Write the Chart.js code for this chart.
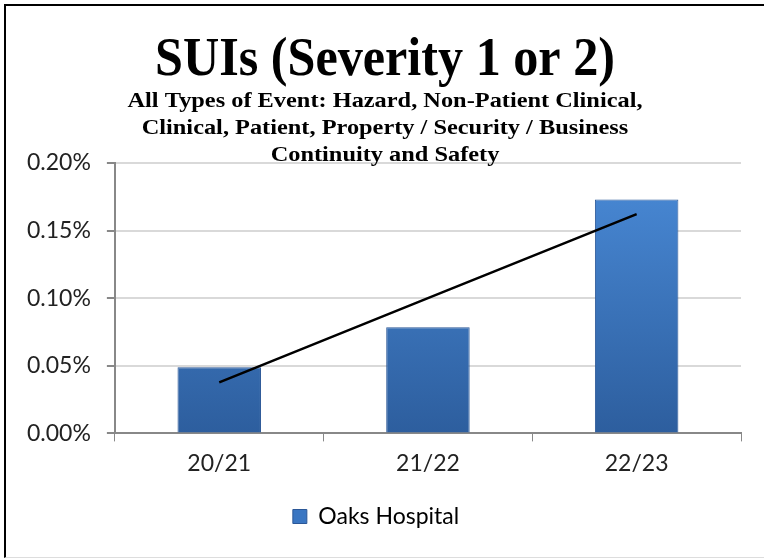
<!DOCTYPE html>
<html>
<head>
<meta charset="utf-8">
<script src="https://cdn.jsdelivr.net/npm/chart.js@4.4.1/dist/chart.umd.min.js"></script>
<style>
  html, body { margin: 0; padding: 0; background: #fff; }
  #wrap { position: relative; width: 764px; height: 558px; }
  #frame {
    position: absolute; left: 4px; top: 4px; width: 770px; height: 551px;
    border-left: 2px solid #000; border-top: 2px solid #000; border-bottom: 1px solid #ddd;
    pointer-events: none;
  }
</style>
</head>
<body>
<div id="wrap">
  <canvas id="chart" width="764" height="558"></canvas>
  <div id="frame"></div>
</div>
<script>
// datos (en %)
const categorias = ["20/21", "21/22", "22/23"];
const oaksHospital = [0.049, 0.0785, 0.173];
const tendencia = [0.0378, 0.100, 0.1622];
const ticksY = [0, 0.05, 0.10, 0.15, 0.20];

const titulo = "SUIs (Severity 1 or 2)";
const subtitulo = [
  "All Types of Event: Hazard, Non-Patient Clinical,",
  "Clinical, Patient, Property / Security / Business",
  "Continuity and Safety"
];

// titulo dibujado a mano para poder comprimirlo como en Cambria
const tituloPlugin = {
  id: "tituloPlugin",
  afterDraw(chart) {
    const ctx = chart.ctx;
    const cx = 385;
    ctx.save();
    ctx.fillStyle = "#000";
    ctx.textAlign = "center";
    ctx.textBaseline = "alphabetic";

    ctx.font = "bold 54px 'Liberation Serif'";
    let w = ctx.measureText(titulo).width;
    ctx.save();
    ctx.translate(cx, 75);
    ctx.scale(460 / w, 1);
    ctx.fillText(titulo, 0, 0);
    ctx.restore();

    ctx.font = "bold 21px 'Liberation Serif'";
    w = ctx.measureText(subtitulo[0]).width;
    const k = 515 / w;
    subtitulo.forEach((linea, i) => {
      ctx.save();
      ctx.translate(cx, 107 + i * 27);
      ctx.scale(k, 1);
      ctx.fillText(linea, 0, 0);
      ctx.restore();
    });
    ctx.restore();
  }
};

function gradienteBarra(context) {
  const chart = context.chart;
  const area = chart.chartArea;
  if (!area) return "#3a75c0";
  const g = chart.ctx.createLinearGradient(0, area.top, 0, area.bottom);
  g.addColorStop(0, "#4a8bd8");
  g.addColorStop(1, "#2d5e9e");
  return g;
}

new Chart(document.getElementById("chart"), {
  data: {
    labels: categorias,
    datasets: [
      {
        type: "line",
        label: "Tendencia",
        data: tendencia,
        borderColor: "#000",
        borderWidth: 2.5,
        pointRadius: 0,
        fill: false,
        tension: 0,
        order: 0
      },
      {
        type: "bar",
        label: "Oaks Hospital",
        data: oaksHospital,
        backgroundColor: gradienteBarra,
        borderColor: "#2b5797",
        borderWidth: 1,
        barPercentage: 0.4,
        categoryPercentage: 1,
        order: 1
      }
    ]
  },
  options: {
    responsive: false,
    animation: false,
    layout: { padding: { top: 163, right: 23, left: 11, bottom: 20 } },
    plugins: {
      title: { display: false },
      tooltip: { enabled: false },
      legend: {
        position: "bottom",
        labels: {
          font: { family: "Lato", size: 23 },
          color: "#222",
          boxWidth: 14,
          boxHeight: 14,
          padding: 20,
          generateLabels: (chart) => [{
            text: "Oaks Hospital",
            fillStyle: "#3a76c2",
            strokeStyle: "#2b5797",
            lineWidth: 1,
            datasetIndex: 1
          }]
        }
      }
    },
    scales: {
      x: {
        grid: {
          offset: true,
          drawOnChartArea: false,
          tickLength: 8,
          tickColor: "#888"
        },
        border: { color: "#888", width: 2 },
        ticks: {
          font: { family: "Lato", size: 23 },
          color: "#222",
          padding: 8
        }
      },
      y: {
        min: 0,
        max: 0.2,
        afterBuildTicks: (axis) => {
          axis.ticks = ticksY.map((v) => ({ value: v }));
        },
        grid: {
          color: "#d9d9d9",
          lineWidth: 2,
          tickLength: 8,
          tickColor: "#888"
        },
        border: { color: "#888", width: 2 },
        ticks: {
          font: { family: "Lato", size: 23 },
          color: "#222",
          padding: 16,
          callback: (v) => v.toFixed(2) + "%"
        }
      }
    }
  },
  plugins: [tituloPlugin]
});
</script>
</body>
</html>
